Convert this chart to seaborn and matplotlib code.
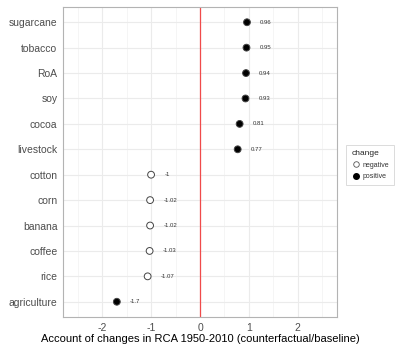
import matplotlib
matplotlib.use("Agg")
import matplotlib.pyplot as plt
from matplotlib.lines import Line2D
import seaborn as sns
import pandas as pd
import numpy as np

categories = ["sugarcane", "tobacco", "RoA", "soy", "cocoa", "livestock",
              "cotton", "corn", "banana", "coffee", "rice", "agriculture"]
values = [0.96, 0.95, 0.94, 0.93, 0.81, 0.77, -1, -1.02, -1.02, -1.03, -1.07, -1.7]
change = ["positive", "positive", "positive", "positive", "positive", "positive",
          "negative", "negative", "negative", "negative", "negative", "positive"]
x_ticks = [-2, -1, 0, 1, 2]
x_label = "Account of changes in RCA 1950-2010 (counterfactual/baseline)"

df = pd.DataFrame({"category": categories, "value": values, "change": change})

sns.set_theme(style="white")
plt.rcParams["font.family"] = ["Liberation Sans", "DejaVu Sans"]

fig = plt.figure(figsize=(3.96, 3.5), dpi=100)
ax = fig.add_axes([63/396, 1 - 317/350, (337-63)/396, (317-7)/350])

# grid (theme_bw style)
for xm in np.arange(-2.5, 3.0, 1.0):
    ax.axvline(xm, color="#f2f2f2", lw=0.5, zorder=0)
for xt in x_ticks:
    ax.axvline(xt, color="#ebebeb", lw=0.8, zorder=0)
for i in range(len(categories)):
    ax.axhline(i, color="#ebebeb", lw=0.8, zorder=0)

ax.axvline(0, color="#f04a4a", lw=0.9, zorder=1)

sns.scatterplot(data=df, x="value", y="category", hue="change",
                palette={"negative": "white", "positive": "black"},
                edgecolor="#444444", linewidth=0.7, s=24, legend=False,
                ax=ax, zorder=3)

for i, v in enumerate(values):
    ax.text(v + 0.27, i, f"{v:g}", fontsize=4.3, color="#333333",
            va="center", ha="left")

ax.set_xlim(-2.8, 2.8)
ax.set_ylim(len(categories) - 0.4, -0.6)
ax.set_xticks(x_ticks)
ax.set_xticklabels([str(t) for t in x_ticks])
ax.set_xlabel(x_label, fontsize=8, color="black", labelpad=1)
ax.set_ylabel("")
ax.tick_params(axis="both", length=2.5, width=0.6, color="#333333",
               labelsize=7.5, labelcolor="#4d4d4d", pad=1.5)
for sp in ax.spines.values():
    sp.set_color("#b3b3b3")
    sp.set_linewidth(0.8)

handles = [Line2D([], [], marker="o", ls="", markerfacecolor="white",
                  markeredgecolor="#555555", markersize=4, markeredgewidth=0.6),
           Line2D([], [], marker="o", ls="", markerfacecolor="black",
                  markeredgecolor="black", markersize=4)]
leg = fig.legend(handles, ["negative", "positive"], title="change",
                 loc="center left", bbox_to_anchor=(343/396, 1 - 165/350),
                 fontsize=5, title_fontsize=6, frameon=True,
                 handletextpad=0.4, borderpad=0.7, labelspacing=0.7,
                 handlelength=1.2, alignment="left")
leg.get_frame().set_edgecolor("#cccccc")
leg.get_frame().set_linewidth(0.6)
leg.get_frame().set_boxstyle("square", pad=0)
for t in leg.get_texts():
    t.set_color("#333333")

fig.savefig("out.png", dpi=100)
